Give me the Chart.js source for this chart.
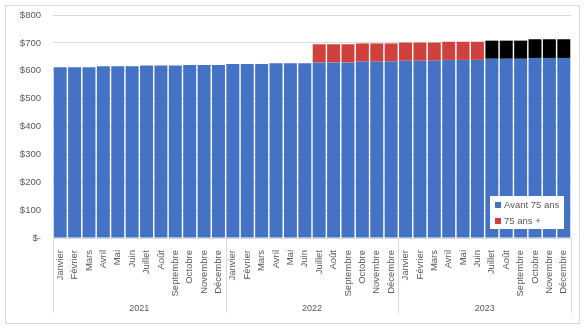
<!DOCTYPE html>
<html>
<head>
<meta charset="utf-8">
<script src="https://cdn.jsdelivr.net/npm/chart.js@4"></script>
<style>
  body { margin: 0; background: #fff; }
  #wrap { position: relative; width: 587px; height: 332px; }
  #frame { position: absolute; left: 5px; top: 5px; width: 573px; height: 317px; border: 1px solid #d9d9d9; pointer-events: none; }
</style>
</head>
<body>
<div id="wrap">
  <canvas id="chart" width="587" height="332"></canvas>
  <div id="frame"></div>
</div>
<script>
// données
const years = ['2021', '2022', '2023'];
const months = ['Janvier', 'Février', 'Mars', 'Avril', 'Mai', 'Juin', 'Juillet', 'Août', 'Septembre', 'Octobre', 'Novembre', 'Décembre'];
const monthLabels = years.flatMap(() => months);

const avant75 = [
    613, 613, 613, 616, 616, 616, 619, 619, 619, 621, 621, 621,
    624, 624, 624, 627, 627, 627, 630, 630, 630, 633, 633, 633,
    636, 636, 636, 639, 639, 639, 643, 643, 643, 646, 646, 646
];
const plus75 = [
    0, 0, 0, 0, 0, 0, 0, 0, 0, 0, 0, 0,
    0, 0, 0, 0, 0, 0, 65, 65, 65, 65, 65, 65,
    65, 65, 65, 65, 65, 65, 0, 0, 0, 0, 0, 0
];
const plus75b = [
    0, 0, 0, 0, 0, 0, 0, 0, 0, 0, 0, 0,
    0, 0, 0, 0, 0, 0, 0, 0, 0, 0, 0, 0,
    0, 0, 0, 0, 0, 0, 65, 65, 65, 67, 67, 67
];
const yTicks = [0, 100, 200, 300, 400, 500, 600, 700, 800];

const textColor = '#595959';
const fontFamily = '"Liberation Sans", Arial, sans-serif';

// séparateurs des années + légende
const extrasPlugin = {
    id: 'extras',
    afterDraw(chart) {
        const ctx = chart.ctx;
        const x = chart.scales.x;
        const area = chart.chartArea;
        ctx.save();
        ctx.strokeStyle = '#d9d9d9';
        ctx.lineWidth = 1;
        [0, 12, 24, 36].forEach(i => {
            const px = Math.round(x.getPixelForValue(i - 0.5)) + 0.5;
            ctx.beginPath();
            ctx.moveTo(px, area.bottom);
            ctx.lineTo(px, 313);
            ctx.stroke();
        });

        // légende dans la zone du graphique
        const lx = 490, ly = 196, lw = 74, lh = 33;
        ctx.fillStyle = '#fff';
        ctx.fillRect(lx, ly, lw, lh);
        const items = chart.data.datasets.slice(0, 2);
        ctx.font = '9.5px ' + fontFamily;
        ctx.textBaseline = 'middle';
        items.forEach((ds, i) => {
            const cy = ly + 9 + i * 16;
            ctx.fillStyle = ds.backgroundColor;
            ctx.fillRect(lx + 5, cy - 3, 6, 6);
            ctx.fillStyle = textColor;
            ctx.fillText(ds.label, lx + 14, cy + 0.5);
        });
        ctx.restore();
    }
};

const ctx = document.getElementById('chart').getContext('2d');
window.mainChart = new Chart(ctx, {
    type: 'bar',
    data: {
        labels: monthLabels,
        datasets: [
            { label: 'Avant 75 ans', data: avant75, backgroundColor: '#4472C4', xAxisID: 'x' },
            { label: '75 ans +', data: plus75, backgroundColor: '#D0403C', xAxisID: 'x' },
            { label: '75 ans + ', data: plus75b, backgroundColor: '#000000', xAxisID: 'x' }
        ]
    },
    options: {
        responsive: false,
        animation: false,
        datasets: {
            bar: { barPercentage: 1, categoryPercentage: 0.9 }
        },
        layout: { padding: { left: 5, top: 15, right: 16, bottom: 16 } },
        plugins: {
            legend: { display: false },
            tooltip: { enabled: false }
        },
        scales: {
            x: {
                stacked: true,
                grid: { display: false },
                border: { color: '#d9d9d9' },
                ticks: {
                    autoSkip: false,
                    minRotation: 90,
                    maxRotation: 90,
                    color: textColor,
                    font: { size: 9.5, family: fontFamily },
                    padding: 4
                },
                afterFit(scale) { scale.height = 62; }
            },
            x2: {
                type: 'category',
                labels: years,
                position: 'bottom',
                offset: true,
                grid: { display: false, drawTicks: false },
                border: { display: false },
                ticks: {
                    color: textColor,
                    font: { size: 9, family: fontFamily },
                    padding: 3
                },
                afterFit(scale) { scale.height = 16; }
            },
            y: {
                stacked: true,
                min: 0,
                max: 800,
                afterBuildTicks(scale) {
                    scale.ticks = yTicks.map(v => ({ value: v }));
                },
                grid: { color: '#d9d9d9', drawTicks: false },
                border: { display: false },
                ticks: {
                    color: textColor,
                    font: { size: 9.5, family: fontFamily },
                    padding: 12,
                    callback: v => v === 0 ? '$-' : '$' + v
                },
                afterFit(scale) {
                    scale.width = 48;
                    scale.paddingTop = 6;
                    scale.paddingBottom = 6;
                }
            }
        }
    },
    plugins: [extrasPlugin]
});
</script>
</body>
</html>
